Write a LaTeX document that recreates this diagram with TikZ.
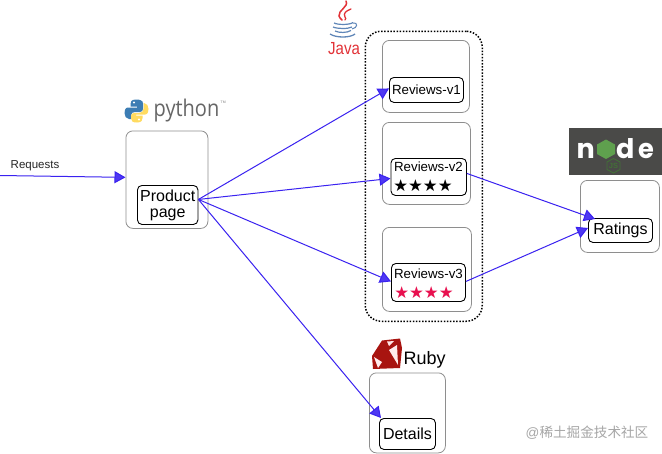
\documentclass[tikz,border=0pt]{standalone}
\usepackage{fontspec}
\setmainfont{Liberation Sans}
\newfontfamily\cjkfont{Noto Sans CJK SC}
\newfontfamily\starfont{DejaVu Sans}
\newfontfamily\logofont{Open Sans}
\newfontfamily\nodefont{Poppins}
\usetikzlibrary{arrows.meta,calc}
\definecolor{arrowblue}{HTML}{3A22F0}
\definecolor{boxgray}{HTML}{8E8E8E}
\definecolor{rubyred}{HTML}{A81410}
\definecolor{javablue}{HTML}{5F86B8}
\definecolor{javared}{HTML}{E23237}
\definecolor{nodebg}{HTML}{4A4A48}
\definecolor{nodegreen}{HTML}{5FA04E}
\definecolor{pyblue}{HTML}{3C7DB4}
\definecolor{pyyellow}{HTML}{FFDB60}
\definecolor{starred}{HTML}{E8104F}
\tikzset{
  outerbox/.style={draw=boxgray,line width=0.8pt,rounded corners=7pt,inner sep=0pt,anchor=north west},
  innerbox/.style={draw=black,line width=0.9pt,rounded corners=4.5pt,fill=white,inner sep=0pt,anchor=north west,align=center,font=\fontsize{16}{16}\selectfont},
  revbox/.style={innerbox,font=\fontsize{13.3}{15}\selectfont},
  link/.style={draw=arrowblue,line width=1pt,-{Triangle[length=11pt,width=12pt,fill=arrowblue!90!white]}},
  plainlabel/.style={inner sep=0pt,font=\fontsize{11.5}{13}\selectfont,text=black!85},
  logotext/.style={inner sep=0pt,anchor=base west},
  starrow/.style={inner sep=0pt,font=\starfont\fontsize{16.5}{18}\selectfont,anchor=center},
  groupbox/.style={draw=black,line width=1.5pt,dash pattern=on 1.5pt off 1.6pt,rounded corners=16pt,inner sep=0pt,anchor=north west}
}
\begin{document}
\begin{tikzpicture}[x=1pt,y=-1pt]
\useasboundingbox (0,0) rectangle (662,453);
\fill[white] (0,0) rectangle (662,453);

% group and outer boxes
\node[groupbox,minimum width=117pt,minimum height=290pt] (group) at (364.5,30.5) {};
\node[outerbox,minimum width=82pt,minimum height=97.5pt] (prodouter) at (125.5,130.5) {};
\node[outerbox,minimum width=87pt,minimum height=72pt] (r1outer) at (382,40) {};
\node[outerbox,minimum width=88pt,minimum height=82pt] (r2outer) at (382,122) {};
\node[outerbox,minimum width=89pt,minimum height=84pt] (r3outer) at (382,227) {};
\node[outerbox,minimum width=79pt,minimum height=72pt] (ratouter) at (580,180) {};
\node[outerbox,minimum width=76pt,minimum height=80pt] (detouter) at (369,372.5) {};

% inner boxes
\node[innerbox,minimum width=60.5pt,minimum height=39pt] (prod) at (137,185) {Product\\page};
\node[revbox,minimum width=74pt,minimum height=25pt] (r1) at (389,77) {Reviews-v1};
\node[revbox,minimum width=75.5pt,minimum height=37pt] (r2) at (390.5,158) {};
\node[revbox,minimum width=74pt,minimum height=38pt] (r3) at (391,263) {};
\node[inner sep=0pt,font=\fontsize{13.3}{15}\selectfont] (r2t) at (428.5,167) {Reviews-v2};
\node[inner sep=0pt,font=\fontsize{13.3}{15}\selectfont] (r3t) at (428.5,274) {Reviews-v3};
\node[starrow] (r2s) at (423,186) {★★★★};
\node[starrow,text=starred] (r3s) at (424,292.5) {★★★★};
\node[innerbox,minimum width=64pt,minimum height=24pt] (rat) at (588,218) {Ratings};
\node[innerbox,minimum width=56pt,minimum height=31pt] (det) at (379,418) {Details};

% python logo
\begin{scope}
  \fill[pyblue] (136,99.5) .. controls (131,99.5) and (130.5,102) .. (130.5,104) -- (130.5,106.5) -- (137,106.5) -- (137,107.5) -- (128,107.5) .. controls (125,107.5) and (124.5,111) .. (124.5,113) .. controls (124.5,116) and (126,119) .. (129,119) -- (131,119) -- (131,115.5) .. controls (131,113) and (133,112) .. (135,112) -- (140,112) .. controls (142,112) and (143,110.5) .. (143,109) -- (143,103.5) .. controls (143,100.5) and (140,99.5) .. (136,99.5) -- cycle;
  \fill[pyyellow] (137,122.5) .. controls (142,122.5) and (142.5,120) .. (142.5,118) -- (142.5,115.5) -- (136,115.5) -- (136,114.5) -- (145,114.5) .. controls (148,114.5) and (148.5,111) .. (148.5,109) .. controls (148.5,106) and (147,103) .. (144,103) -- (143.5,103) -- (143.5,109) .. controls (143.5,111) and (142,113) .. (139,113) -- (134,113) .. controls (132,113) and (131,114.5) .. (131,116) -- (131,118.5) .. controls (131,121.5) and (133,122.5) .. (137,122.5) -- cycle;
  \fill[white] (134,102.5) circle (1.1pt);
  \fill[white] (139,119.5) circle (1.1pt);
\end{scope}
\node[logotext,text=black!60,font=\logofont\fontsize{23}{26}\selectfont,xscale=0.87] (pylabel) at (153.5,116.5) {python};
\node[logotext,text=black!50,font=\fontsize{3.5}{4}\selectfont] (pytm) at (220.5,103.5) {TM};

% java logo
\begin{scope}
  \draw[javared,line width=1.5pt,line cap=round] (346,1) .. controls (349,7) and (338,10) .. (339,16) .. controls (339.5,18) and (341,19) .. (342,20);
  \draw[javared,line width=1.3pt,line cap=round] (351,9) .. controls (346,11) and (343,13) .. (345,17) .. controls (346,18) and (346,19) .. (345,20);
  \draw[javablue,line width=1.2pt] (334,23) .. controls (338,25) and (350,25) .. (353,22.5);
  \draw[javablue,line width=1.2pt] (333,27) .. controls (338,29) and (348,29) .. (352,27);
  \draw[javablue,line width=1.2pt] (335,31) .. controls (339,33) and (347,33) .. (351,30.5);
  \draw[javablue,line width=1pt] (353,23) .. controls (358,22) and (358,28) .. (352,29);
  \draw[javablue,line width=1.3pt] (330,34) .. controls (336,38) and (350,38) .. (355,34);
\end{scope}
\node[logotext,text=javared,font=\fontsize{17.5}{20}\selectfont,xscale=0.86] (javalabel) at (328,54.5) {Java};

% ruby logo
\begin{scope}
  \fill[rubyred] (382,340.5) -- (400,338.5) -- (402,348) -- (400,368) -- (373,369) -- (372,356) -- cycle;
  \fill[white!92!red] (389,350) -- (397,345) -- (398,365) -- cycle;
  \fill[white!92!red] (374,357) -- (382,362) -- (378,368) -- cycle;
  \fill[white!90!red] (387,341.5) -- (394,341) -- (389,346) -- cycle;
\end{scope}
\node[logotext,font=\fontsize{18}{21}\selectfont] (rubylabel) at (403.5,364) {Ruby};

% node logo
\node[fill=nodebg,anchor=north west,inner sep=0pt,minimum width=93pt,minimum height=47.5pt] (nodebgbox) at (569,127.5) {};
\node[logotext,text=white,font=\nodefont\bfseries\fontsize{27}{29}\selectfont] (nn) at (576.5,158) {n};
\node[logotext,text=white,font=\nodefont\bfseries\fontsize{27}{29}\selectfont] (nd) at (616,158) {d};
\node[logotext,text=white,font=\nodefont\bfseries\fontsize{27}{29}\selectfont,xscale=0.95] (ne) at (638,158) {e};
\fill[nodegreen] (606,139.5) -- (615,144.5) -- (615,154) -- (606,159) -- (597,154) -- (597,144.5) -- cycle;
\draw[nodegreen!70!black,line width=0.9pt] (613.5,158.5) -- (620,162) -- (620,169.5) -- (613.5,173) -- (607,169.5) -- (607,162) -- cycle;
\node[inner sep=0pt,text=nodegreen!70!black,font=\bfseries\fontsize{7.5}{9}\selectfont] (js) at (613.5,165.7) {JS};

% labels
\node[plainlabel,anchor=base west] (req) at (10.5,168) {Requests};
\coordinate (start) at (0,175.5);
\node[inner sep=0pt,anchor=base east,text=black!35,font=\fontsize{13.6}{15}\selectfont] (wm) at (648.5,437) {@{\cjkfont 稀土掘金技术社区}};

% connectors
\draw[link] (start) -- ([yshift=2.3pt]prodouter.west);
\draw[link] ([yshift=5.5pt]prod.east) -- ([yshift=1.5pt]r1.west);
\draw[link] ([yshift=5.5pt]prod.east) -- ([yshift=-1.5pt]r2.west);
\draw[link] ([yshift=5.5pt]prod.east) -- ([yshift=1pt]r3.west);
\draw[link] ([yshift=5.5pt]prod.east) -- ([xshift=2pt]det.north west);
\draw[link] ([yshift=3.5pt]r2.east) -- ([xshift=7pt,yshift=-1pt]rat.north west);
\draw[link] ([yshift=1pt]r3.east) -- ([yshift=-10pt]rat.north west);
\end{tikzpicture}
\end{document}
